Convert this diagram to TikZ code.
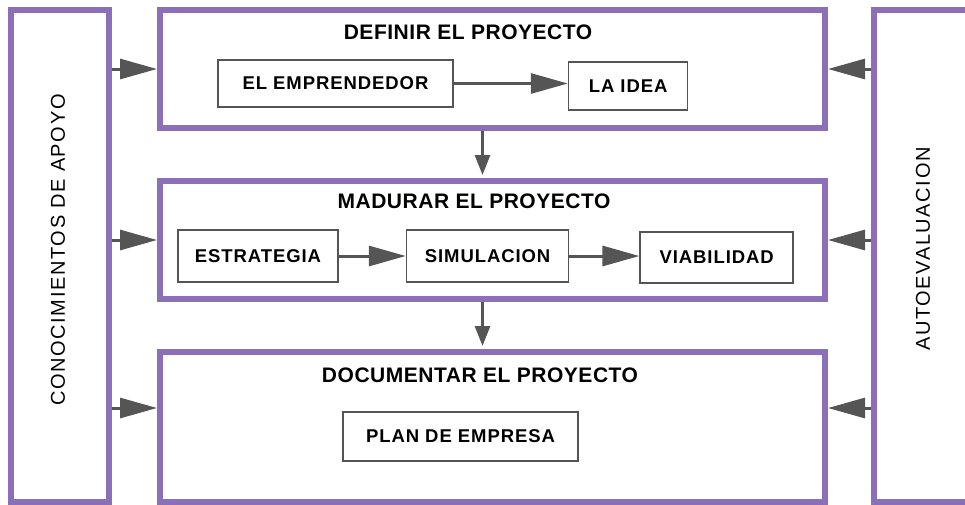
\documentclass[tikz,border=0pt]{standalone}
\usepackage{fontspec}
\setmainfont{Liberation Sans}
\usepackage{tikz}
\usetikzlibrary{positioning,arrows.meta}
\definecolor{lila}{RGB}{139,112,185}
\definecolor{gris}{RGB}{85,85,85}

\begin{document}
\begin{tikzpicture}[x=1pt,y=-1pt,
    frame/.style={draw=lila,line width=6pt,inner sep=0pt},
    sub/.style={draw=gris,line width=1.6pt,inner sep=0pt,font=\fontsize{18.5}{22}\selectfont\bfseries\addfontfeatures{LetterSpace=5}},
    titulo/.style={font=\fontsize{21}{24}\selectfont\bfseries\addfontfeatures{LetterSpace=2.5}},
    lado/.style={rotate=90,font=\fontsize{20}{24}\selectfont\addfontfeatures{LetterSpace=8}},
    flecha/.style={draw=gris,line width=3pt,-{Triangle[length=37pt,width=20pt]}},
    baja/.style={draw=gris,line width=3pt,-{Triangle[length=20pt,width=15pt]}}] %
    \useasboundingbox (0,0) rectangle (965,504); %
    % side columns
    \node[frame,minimum width=98pt,minimum height=492pt] (apoyo) at (60,256) {} ; %
    \node[lado] (tapoyo) at (58,250) {CONOCIMIENTOS DE APOYO} ;
    \node[frame,minimum width=94pt,minimum height=492pt] (auto) at (921,256) {} ; %
    \node[lado] (tauto) at (923,249) {AUTOEVALUACION} ;
    % stages
    \node[frame,minimum width=665pt,minimum height=118pt] (definir) at (492.5,69) {} ; %
    \node[frame,minimum width=665pt,minimum height=118pt] (madurar) at (492.5,240) {} ;
    \node[frame,minimum width=665pt,minimum height=150pt] (documentar) at (492.5,427) {} ;
    \node[titulo] (tdefinir) at (468,32) {DEFINIR EL PROYECTO} ;
    \node[titulo] (tmadurar) at (474,201) {MADURAR EL PROYECTO} ;
    \node[titulo] (tdocumentar) at (480,375) {DOCUMENTAR EL PROYECTO} ;
    \coordinate (docin) at ([yshift=19pt]documentar.west) ;
    \coordinate (docout) at ([yshift=19pt]documentar.east) ;
    % inner boxes
    \node[sub,minimum width=235pt,minimum height=47pt] (emprendedor) at (335.5,83.5) {EL EMPRENDEDOR} ; %
    \node[sub,minimum width=119pt,minimum height=48pt,right=114pt of emprendedor,yshift=-2.5pt] (idea) {LA IDEA} ;
    \node[sub,minimum width=160pt,minimum height=52pt] (estrategia) at (258,256) {ESTRATEGIA} ;
    \node[sub,minimum width=162pt,minimum height=52pt,right=67pt of estrategia] (simulacion) {SIMULACION} ;
    \node[sub,minimum width=153pt,minimum height=51pt,right=70pt of simulacion,yshift=-1.5pt] (viabilidad) {VIABILIDAD} ;
    \node[sub,minimum width=235pt,minimum height=49pt] (plan) at (460.5,436.5) {PLAN DE EMPRESA} ;
    % arrows
    \draw[flecha] (emprendedor.east) -- (emprendedor.east -| idea.west) ; %
    \draw[flecha] (estrategia) -- (simulacion) ;
    \draw[flecha] (simulacion.east) -- (simulacion.east -| viabilidad.west) ;
    \draw[baja,shorten >=3pt] ([xshift=-10pt]definir.south) -- ([xshift=-10pt]madurar.north) ;
    \draw[baja,shorten >=3pt] ([xshift=-10pt]madurar.south) -- ([xshift=-10pt]documentar.north) ;
    \draw[flecha] (apoyo.east |- definir.west) -- (definir.west) ;
    \draw[flecha] (apoyo.east |- madurar.west) -- (madurar.west) ;
    \draw[flecha] (apoyo.east |- docin) -- (docin) ;
    \draw[flecha] (auto.west |- definir.east) -- (definir.east) ;
    \draw[flecha] (auto.west |- madurar.east) -- (madurar.east) ;
    \draw[flecha] (auto.west |- docout) -- (docout) ;
\end{tikzpicture}
\end{document}
